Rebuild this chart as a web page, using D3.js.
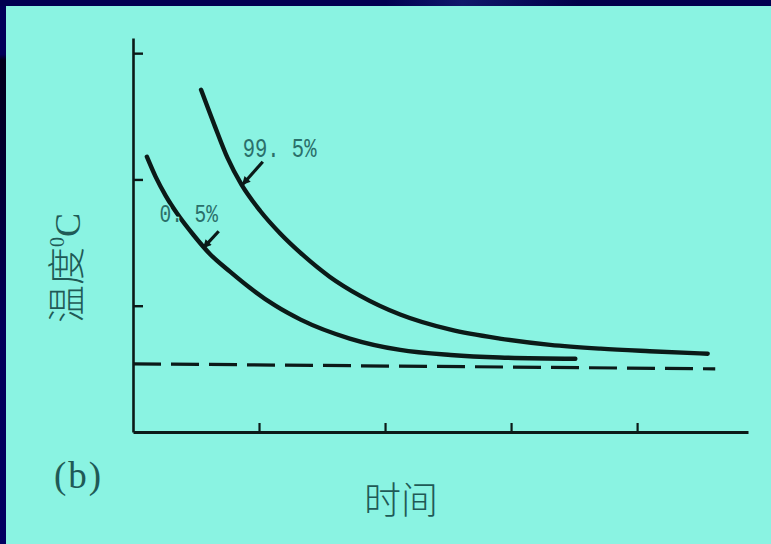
<!DOCTYPE html>
<html>
<head>
<meta charset="utf-8">
<script src="https://cdn.jsdelivr.net/npm/d3@7/dist/d3.min.js"></script>
<style>
  html, body { margin: 0; padding: 0; background: #000050; }
  svg { display: block; }
</style>
</head>
<body>
<svg id="chart" width="771" height="544"></svg>
<script>
// ---- data (time units, temperature units) ----
const xTicks = [1, 2, 3, 4];
const yTicks = [1, 2, 3];
const curveHigh = [ // 99.5%
  [0.54, 2.71], [0.65, 2.42], [0.75, 2.17], [0.86, 1.96], [1.01, 1.75],
  [1.17, 1.57], [1.35, 1.40], [1.56, 1.23], [1.80, 1.08], [2.12, 0.93],
  [2.52, 0.81], [2.91, 0.74], [3.31, 0.69], [3.71, 0.66], [4.10, 0.64],
  [4.56, 0.62]
];
const curveLow = [ // 0.5%
  [0.11, 2.18], [0.18, 2.02], [0.26, 1.87], [0.35, 1.73], [0.48, 1.56],
  [0.61, 1.41], [0.77, 1.27], [0.93, 1.14], [1.13, 1.00], [1.33, 0.89],
  [1.72, 0.74], [2.12, 0.65], [2.52, 0.61], [2.91, 0.59], [3.51, 0.58]
];
const baseline = [[0.0, 0.54], [4.62, 0.50]];
const curveLabels = ["99. 5%", "0. 5%"];
const labelAnchors = [[0.87, 2.18], [0.21, 1.66]];
const arrows = [
  [[1.03, 2.14], [0.87, 1.96]],
  [[0.68, 1.59], [0.56, 1.46]]
];
const yTitle = "温度";
const xTitle = "时间";
const panelTag = "(b)";

// ---- drawing ----
const svg = d3.select("#chart");
const W = 771, H = 544;

const defs = svg.append("defs");
const lg = defs.append("linearGradient").attr("id", "leftStrip")
  .attr("x1", 0).attr("y1", 0).attr("x2", 0).attr("y2", 1);
lg.append("stop").attr("offset", "0%").attr("stop-color", "#000058");
lg.append("stop").attr("offset", "9%").attr("stop-color", "#000058");
lg.append("stop").attr("offset", "10%").attr("stop-color", "#00001a");
lg.append("stop").attr("offset", "30%").attr("stop-color", "#000030");
lg.append("stop").attr("offset", "60%").attr("stop-color", "#000058");
lg.append("stop").attr("offset", "100%").attr("stop-color", "#000060");

const tg = defs.append("linearGradient").attr("id", "topStrip")
  .attr("x1", 0).attr("y1", 0).attr("x2", 1).attr("y2", 0);
tg.append("stop").attr("offset", "0%").attr("stop-color", "#000050");
tg.append("stop").attr("offset", "50%").attr("stop-color", "#000050");
tg.append("stop").attr("offset", "60%").attr("stop-color", "#10186a");
tg.append("stop").attr("offset", "75%").attr("stop-color", "#000048");
tg.append("stop").attr("offset", "100%").attr("stop-color", "#000050");

svg.append("rect").attr("width", W).attr("height", H).attr("fill", "#000050");
svg.append("rect").attr("width", W).attr("height", 6).attr("fill", "url(#topStrip)");
svg.append("rect").attr("x", 0).attr("y", 6).attr("width", 6).attr("height", H - 6).attr("fill", "url(#leftStrip)");
svg.append("rect").attr("x", 6).attr("y", 6).attr("width", W - 6).attr("height", H - 6).attr("fill", "#8af3e2");

const x = d3.scaleLinear().domain([0, 4.88]).range([133, 748]);
const y = d3.scaleLinear().domain([0, 3.12]).range([432, 38]);

const ink = "#0b1a18";

// axes
const yAxis = d3.axisLeft(y).tickValues(yTicks).tickSizeInner(-10).tickSizeOuter(0).tickFormat("");
const gy = svg.append("g").attr("transform", `translate(${x(0)},0)`).call(yAxis);
gy.select(".domain").attr("stroke", ink).attr("stroke-width", 2.6);
gy.selectAll(".tick line").attr("stroke", ink).attr("stroke-width", 2.4);

const xAxis = d3.axisBottom(x).tickValues(xTicks).tickSizeInner(-9).tickSizeOuter(0).tickFormat("");
const gx = svg.append("g").attr("transform", `translate(0,${y(0)})`).call(xAxis);
gx.select(".domain").attr("stroke", ink).attr("stroke-width", 2.8);
gx.selectAll(".tick line").attr("stroke", ink).attr("stroke-width", 2.2);

// dashed baseline
const straight = d3.line().x(d => x(d[0])).y(d => y(d[1]));
svg.append("path").datum(baseline).attr("d", straight)
  .attr("fill", "none").attr("stroke", ink).attr("stroke-width", 3.2)
  .attr("stroke-dasharray", "28,10");

// curves
const smooth = d3.line().x(d => x(d[0])).y(d => y(d[1])).curve(d3.curveMonotoneX);
[curveHigh, curveLow].forEach(c => {
  svg.append("path").datum(c).attr("d", smooth)
    .attr("fill", "none").attr("stroke", ink).attr("stroke-width", 4.4)
    .attr("stroke-linecap", "round");
});

// arrows
defs.append("marker").attr("id", "ah").attr("viewBox", "0 0 10 10")
  .attr("refX", 9).attr("refY", 5).attr("markerWidth", 4).attr("markerHeight", 2.6)
  .attr("markerUnits", "strokeWidth").attr("orient", "auto")
  .append("path").attr("d", "M0,0L10,5L0,10Z").attr("fill", ink);
arrows.forEach(a => {
  svg.append("path").datum(a).attr("d", straight)
    .attr("fill", "none").attr("stroke", ink).attr("stroke-width", 3.2)
    .attr("marker-end", "url(#ah)");
});

// curve labels
const labelColor = "#2a6f6a";
curveLabels.forEach((t, i) => {
  const [lx, ly] = labelAnchors[i];
  svg.append("text")
    .attr("transform", `translate(${x(lx)},${y(ly)}) scale(1,1.35)`)
    .attr("font-family", "Liberation Mono, DejaVu Sans Mono, monospace")
    .attr("font-size", i === 0 ? 20.5 : 19.5)
    .attr("fill", labelColor)
    .attr("stroke", "#8af3e2").attr("stroke-width", 2)
    .attr("paint-order", "stroke")
    .text(t);
});

// titles
const titleColor = "#1f5a56";
const yt = svg.append("text")
  .attr("transform", `translate(80,268) rotate(-90)`)
  .attr("text-anchor", "middle")
  .attr("font-family", "Noto Sans CJK SC, sans-serif")
  .attr("font-weight", 300)
  .attr("font-size", 38)
  .attr("fill", titleColor);
yt.append("tspan").text(yTitle);
yt.append("tspan").attr("font-size", 20).attr("dy", -16).attr("font-family", "Liberation Serif, serif").text("0");
yt.append("tspan").attr("font-size", 36).attr("dy", 16).attr("font-family", "Liberation Serif, serif").text("C");

svg.append("text")
  .attr("x", 401).attr("y", 514)
  .attr("text-anchor", "middle")
  .attr("font-family", "Noto Sans CJK SC, sans-serif")
  .attr("font-weight", 300)
  .attr("font-size", 37)
  .attr("fill", titleColor)
  .text(xTitle);

svg.append("text")
  .attr("x", 54).attr("y", 488)
  .attr("font-family", "Liberation Serif, serif")
  .attr("font-size", 37)
  .attr("letter-spacing", 2)
  .attr("fill", titleColor)
  .text(panelTag);
</script>
</body>
</html>
